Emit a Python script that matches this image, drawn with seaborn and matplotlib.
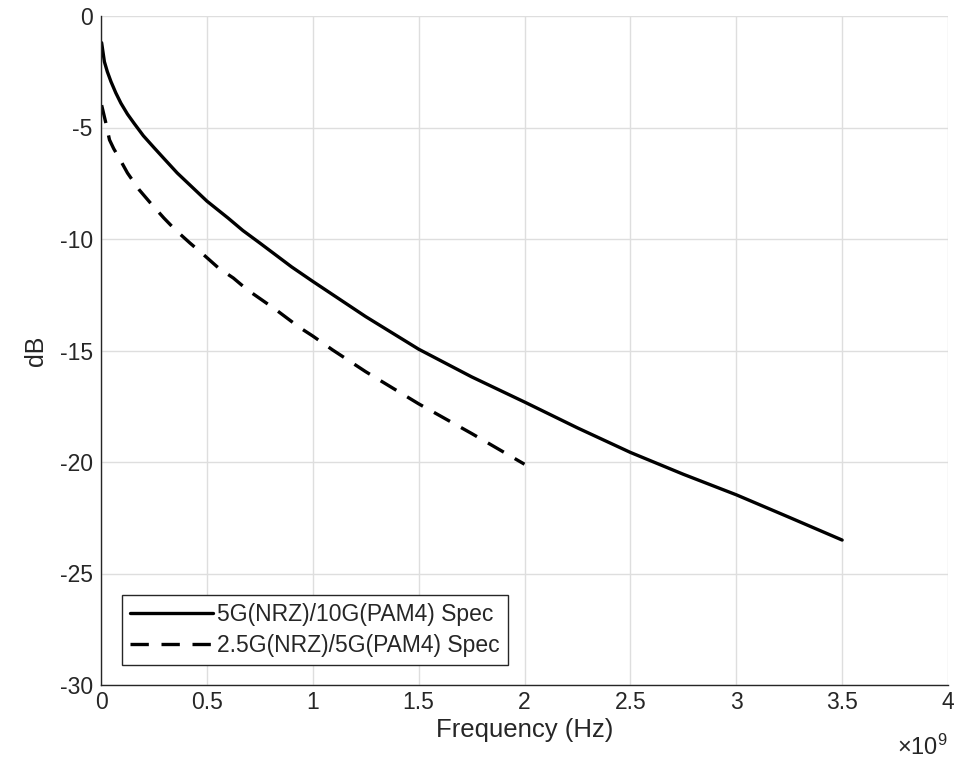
import numpy as np
import pandas as pd
import matplotlib
matplotlib.use("Agg")
import matplotlib.pyplot as plt
import seaborn as sns

# ---- data (frequency in GHz, loss in dB) ----
freq_5g_ghz = [0.003, 0.016, 0.03, 0.047, 0.07, 0.094, 0.125, 0.156, 0.2, 0.25, 0.3,
               0.36, 0.4, 0.5, 0.6, 0.67, 0.75, 0.844, 0.9, 1.0, 1.25, 1.5, 1.75, 2.0,
               2.25, 2.5, 2.75, 3.0, 3.25, 3.5]
loss_5g_db = [-1.2, -2.05, -2.5, -2.94, -3.45, -3.91, -4.4, -4.81, -5.37, -5.9, -6.42,
              -7.04, -7.4, -8.3, -9.06, -9.62, -10.18, -10.85, -11.25, -11.9, -13.48,
              -14.94, -16.18, -17.31, -18.47, -19.57, -20.55, -21.47, -22.48, -23.5]
freq_25g_ghz = [0.003, 0.023, 0.04, 0.06, 0.086, 0.125, 0.18, 0.234, 0.297, 0.35, 0.42,
                0.484, 0.555, 0.625, 0.69, 0.77, 0.83, 0.935, 1.0, 1.093, 1.25, 1.5,
                1.75, 2.0]
loss_25g_db = [-4.0, -4.8, -5.55, -5.95, -6.37, -7.04, -7.79, -8.39, -9.06, -9.58,
               -10.18, -10.7, -11.3, -11.75, -12.27, -12.8, -13.2, -13.95, -14.35,
               -14.97, -15.95, -17.39, -18.72, -20.1]
series_names = ["5G(NRZ)/10G(PAM4) Spec", "2.5G(NRZ)/5G(PAM4) Spec"]
x_ticks = [0, 0.5, 1, 1.5, 2, 2.5, 3, 3.5, 4]
y_ticks = [0, -5, -10, -15, -20, -25, -30]

df1 = pd.DataFrame({"f": np.array(freq_5g_ghz) * 1e9, "db": loss_5g_db})
df2 = pd.DataFrame({"f": np.array(freq_25g_ghz) * 1e9, "db": loss_25g_db})

sns.set_style("white")
plt.rcParams["font.family"] = ["Liberation Sans", "DejaVu Sans"]
plt.rcParams["mathtext.fontset"] = "custom"
plt.rcParams["mathtext.rm"] = "Liberation Sans"
plt.rcParams["mathtext.it"] = "Liberation Sans"

fig = plt.figure(figsize=(9.58, 7.64), dpi=100)
ax = fig.add_axes([101 / 958, 1 - 685 / 764, 847 / 958, 669 / 764])

dark = "#262626"
sns.lineplot(data=df1, x="f", y="db", ax=ax, color="black", linewidth=2.4,
             label=series_names[0], estimator=None, sort=False)
sns.lineplot(data=df2, x="f", y="db", ax=ax, color="black", linewidth=2.4,
             label=series_names[1], estimator=None, sort=False)
ax.lines[1].set_dashes((5.5, 3.8))

ax.set_xlim(0, 4e9)
ax.set_ylim(-30, 0)
ax.set_xticks(np.array(x_ticks) * 1e9)
ax.set_yticks(y_ticks)
ax.set_xticklabels([("%g" % t) for t in x_ticks])
ax.set_yticklabels([("%g" % t) for t in y_ticks])

ax.grid(True, color="#dedede", linewidth=1.0)
ax.set_axisbelow(True)
for s in ["top", "right"]:
    ax.spines[s].set_visible(False)
for s in ["left", "bottom"]:
    ax.spines[s].set_color(dark)
    ax.spines[s].set_linewidth(1.0)
ax.tick_params(direction="in", length=6, width=1.0, colors=dark,
               labelsize=16.5, labelcolor=dark, pad=4)
ax.tick_params(axis="y", pad=6)

ax.set_xlabel("Frequency (Hz)", fontsize=18.5, color=dark, labelpad=3)
ax.set_ylabel("dB", fontsize=18, color=dark, labelpad=8)
ax.text(1.0, -0.075, r"$\times10^{9}$", transform=ax.transAxes, ha="right",
        va="top", fontsize=17, color=dark)

leg = ax.legend(loc="lower left", bbox_to_anchor=(21 / 847, 20 / 669),
                borderaxespad=0, fancybox=False, framealpha=1, edgecolor=dark,
                fontsize=16.5, handlelength=3.6, handletextpad=0.2,
                labelspacing=0.35, borderpad=0.35)
leg.get_frame().set_linewidth(1.0)

fig.savefig("out.png", dpi=100)
